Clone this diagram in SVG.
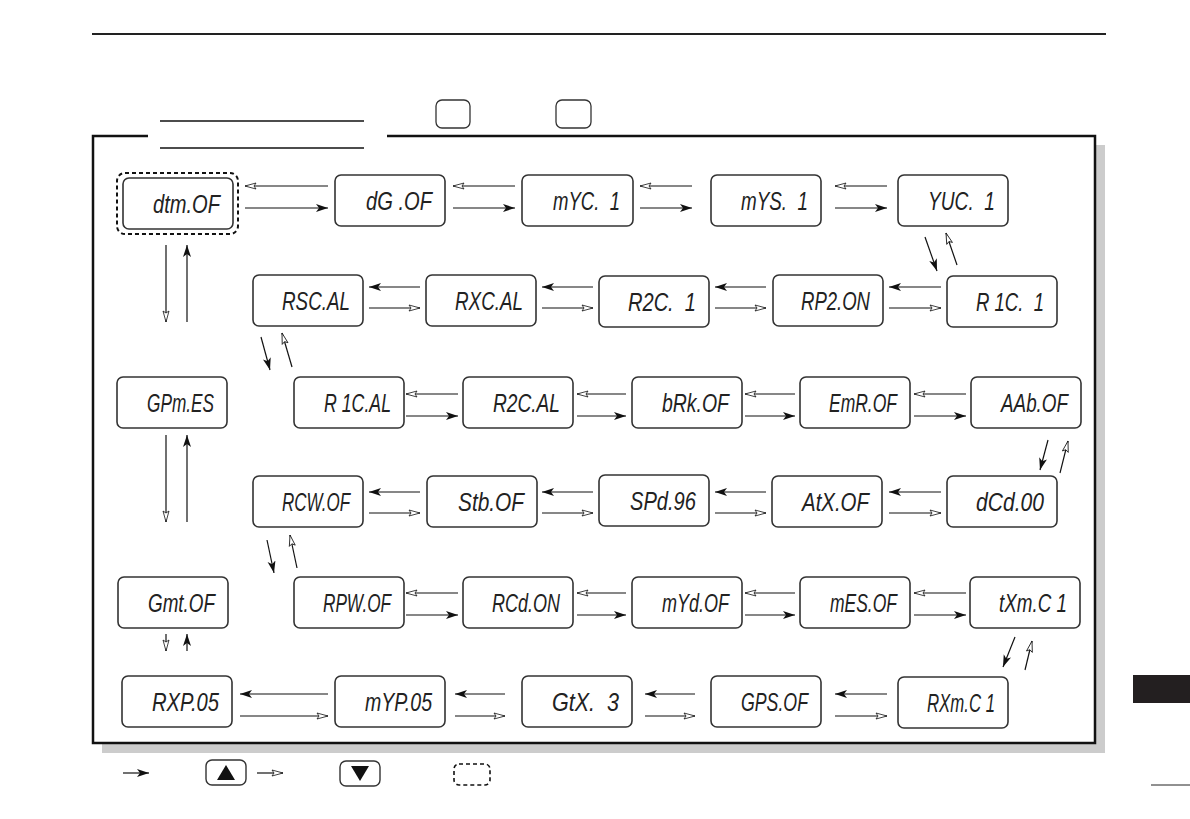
<svg xmlns="http://www.w3.org/2000/svg" width="1190" height="819" viewBox="0 0 1190 819">
<style>
.box{fill:#fff;stroke:#333;stroke-width:1.6}
.lcd{font-family:"Liberation Sans","DejaVu Sans",sans-serif;font-style:italic;font-size:26px;fill:#222;text-anchor:end;white-space:pre}
.c{stroke:#111;stroke-width:1.2;fill:none}
.f{marker-end:url(#af)}
.h{marker-end:url(#ah)}
</style>
<defs>
<marker id="af" markerUnits="userSpaceOnUse" markerWidth="14" markerHeight="10" refX="12" refY="4" orient="auto">
<path d="M0,0 L12,4 L0,8 L3,4 Z" fill="#111"/>
</marker>
<marker id="ah" markerUnits="userSpaceOnUse" markerWidth="14" markerHeight="10" refX="12" refY="4" orient="auto">
<path d="M1,1 L12,4 L1,7 L3,4 Z" fill="#fff" stroke="#111" stroke-width="0.8"/>
</marker>
</defs>
<rect width="1190" height="819" fill="#fff"/>
<!-- page furniture -->
<line x1="92" y1="34" x2="1106" y2="34" stroke="#222" stroke-width="2"/>
<rect x="436" y="100" width="34" height="28" rx="6" fill="#fff" stroke="#333" stroke-width="1.3"/>
<rect x="556" y="100" width="35" height="28" rx="6" fill="#fff" stroke="#333" stroke-width="1.3"/>
<rect x="102" y="145" width="1003" height="608" fill="#ccc"/>
<rect x="93" y="136" width="1002" height="607" fill="#fff"/>
<path d="M148,136 L93,136 L93,743 L1095,743 L1095,136 L387,136" fill="none" stroke="#111" stroke-width="2.5"/>
<line x1="160" y1="121" x2="364" y2="121" stroke="#111" stroke-width="1.3"/>
<line x1="160" y1="148" x2="364" y2="148" stroke="#111" stroke-width="1.3"/>
<rect x="1133" y="675" width="57" height="28" fill="#231f20"/>
<line x1="1151" y1="785" x2="1190" y2="785" stroke="#222" stroke-width="1"/>
<!-- legend -->
<line class="c f" x1="123" y1="773" x2="149" y2="773"/>
<rect x="206" y="760" width="40" height="25" rx="6" fill="#fff" stroke="#333" stroke-width="1.4"/>
<path d="M217,780 L226,765 L235,780 Z" fill="#111"/>
<line class="c h" x1="257" y1="773" x2="283" y2="773"/>
<rect x="340" y="761" width="40" height="25" rx="6" fill="#fff" stroke="#333" stroke-width="1.4"/>
<path d="M351,766 L360,781 L369,766 Z" fill="#111"/>
<rect x="454" y="764" width="36" height="21" rx="5" fill="none" stroke="#111" stroke-width="1.6" stroke-dasharray="4,3"/>

<g id="connectors">
<!-- row1 -->
<line class="c h" x1="328" y1="186" x2="245" y2="186"/><line class="c f" x1="245" y1="208" x2="328" y2="208"/>
<line class="c h" x1="515" y1="186" x2="453" y2="186"/><line class="c f" x1="453" y1="208" x2="515" y2="208"/>
<line class="c h" x1="692" y1="186" x2="640" y2="186"/><line class="c f" x1="640" y1="208" x2="692" y2="208"/>
<line class="c h" x1="887" y1="186" x2="835" y2="186"/><line class="c f" x1="835" y1="208" x2="887" y2="208"/>
<line class="c f" x1="925" y1="237" x2="937" y2="271"/><line class="c h" x1="957" y1="265" x2="946" y2="233"/>
<!-- row2 -->
<line class="c f" x1="420" y1="287" x2="369" y2="287"/><line class="c h" x1="369" y1="308" x2="420" y2="308"/>
<line class="c f" x1="593" y1="287" x2="542" y2="287"/><line class="c h" x1="542" y1="308" x2="593" y2="308"/>
<line class="c f" x1="766" y1="287" x2="715" y2="287"/><line class="c h" x1="715" y1="308" x2="766" y2="308"/>
<line class="c f" x1="941" y1="287" x2="889" y2="287"/><line class="c h" x1="889" y1="308" x2="941" y2="308"/>
<line class="c f" x1="261" y1="337" x2="270" y2="370"/><line class="c h" x1="292" y1="367" x2="282" y2="333"/>
<!-- left column -->
<line class="c h" x1="166" y1="245" x2="166" y2="322"/><line class="c f" x1="187" y1="322" x2="187" y2="245"/>
<line class="c h" x1="166" y1="435" x2="166" y2="522"/><line class="c f" x1="187" y1="522" x2="187" y2="435"/>
<line class="c h" x1="166" y1="634" x2="166" y2="651"/><line class="c f" x1="187" y1="651" x2="187" y2="634"/>
<!-- row3 -->
<line class="c h" x1="458" y1="394" x2="406" y2="394"/><line class="c f" x1="406" y1="416" x2="458" y2="416"/>
<line class="c h" x1="626" y1="394" x2="577" y2="394"/><line class="c f" x1="577" y1="416" x2="626" y2="416"/>
<line class="c h" x1="795" y1="394" x2="745" y2="394"/><line class="c f" x1="745" y1="416" x2="795" y2="416"/>
<line class="c h" x1="966" y1="394" x2="914" y2="394"/><line class="c f" x1="914" y1="416" x2="966" y2="416"/>
<line class="c f" x1="1048" y1="440" x2="1040" y2="470"/><line class="c h" x1="1060" y1="473" x2="1068" y2="441"/>
<!-- row4 -->
<line class="c f" x1="420" y1="492" x2="369" y2="492"/><line class="c h" x1="369" y1="513" x2="420" y2="513"/>
<line class="c f" x1="593" y1="492" x2="542" y2="492"/><line class="c h" x1="542" y1="513" x2="593" y2="513"/>
<line class="c f" x1="766" y1="492" x2="715" y2="492"/><line class="c h" x1="715" y1="513" x2="766" y2="513"/>
<line class="c f" x1="941" y1="492" x2="889" y2="492"/><line class="c h" x1="889" y1="513" x2="941" y2="513"/>
<line class="c f" x1="267" y1="540" x2="274" y2="573"/><line class="c h" x1="297" y1="568" x2="290" y2="535"/>
<!-- row5 -->
<line class="c h" x1="458" y1="593" x2="406" y2="593"/><line class="c f" x1="406" y1="615" x2="458" y2="615"/>
<line class="c h" x1="626" y1="593" x2="577" y2="593"/><line class="c f" x1="577" y1="615" x2="626" y2="615"/>
<line class="c h" x1="795" y1="593" x2="745" y2="593"/><line class="c f" x1="745" y1="615" x2="795" y2="615"/>
<line class="c h" x1="966" y1="593" x2="914" y2="593"/><line class="c f" x1="914" y1="615" x2="966" y2="615"/>
<line class="c f" x1="1015" y1="637" x2="1003" y2="667"/><line class="c h" x1="1025" y1="670" x2="1032" y2="641"/>
<!-- row6 -->
<line class="c f" x1="328" y1="694" x2="240" y2="694"/><line class="c h" x1="240" y1="716" x2="328" y2="716"/>
<line class="c f" x1="505" y1="694" x2="455" y2="694"/><line class="c h" x1="455" y1="716" x2="505" y2="716"/>
<line class="c f" x1="695" y1="694" x2="645" y2="694"/><line class="c h" x1="645" y1="716" x2="695" y2="716"/>
<line class="c f" x1="887" y1="694" x2="835" y2="694"/><line class="c h" x1="835" y1="716" x2="887" y2="716"/>
</g>

<g id="n-dtm"><rect x="117" y="173" width="121" height="61" rx="8" fill="none" stroke="#111" stroke-width="2" stroke-dasharray="4,3"/><rect class="box" x="123" y="178" width="110" height="51" rx="6"/><text class="lcd" x="220" y="213" textLength="67" lengthAdjust="spacingAndGlyphs">dtm.OF</text></g>
<g id="n-dg"><rect class="box" x="335" y="175" width="110" height="51" rx="6"/><text class="lcd" x="432" y="210" textLength="66" lengthAdjust="spacingAndGlyphs">dG .OF</text></g>
<g id="n-myc"><rect class="box" x="522" y="175" width="111" height="51" rx="6"/><text class="lcd" x="620" y="210" textLength="67" lengthAdjust="spacingAndGlyphs">mYC.  1</text></g>
<g id="n-mys"><rect class="box" x="711" y="175" width="110" height="51" rx="6"/><text class="lcd" x="808" y="210" textLength="67" lengthAdjust="spacingAndGlyphs">mYS.  1</text></g>
<g id="n-yuc"><rect class="box" x="898" y="175" width="110" height="51" rx="6"/><text class="lcd" x="995" y="210" textLength="67" lengthAdjust="spacingAndGlyphs">YUC.  1</text></g>

<g id="n-rsc"><rect class="box" x="253" y="275" width="110" height="51" rx="6"/><text class="lcd" x="350" y="310" textLength="68" lengthAdjust="spacingAndGlyphs">RSC.AL</text></g>
<g id="n-rxc"><rect class="box" x="426" y="275" width="110" height="51" rx="6"/><text class="lcd" x="523" y="310" textLength="68" lengthAdjust="spacingAndGlyphs">RXC.AL</text></g>
<g id="n-r2c1"><rect class="box" x="599" y="276" width="110" height="51" rx="6"/><text class="lcd" x="696" y="311" textLength="68" lengthAdjust="spacingAndGlyphs">R2C.  1</text></g>
<g id="n-rp2"><rect class="box" x="773" y="275" width="110" height="51" rx="6"/><text class="lcd" x="870" y="310" textLength="69" lengthAdjust="spacingAndGlyphs">RP2.ON</text></g>
<g id="n-r1c1"><rect class="box" x="947" y="276" width="110" height="51" rx="6"/><text class="lcd" x="1044" y="311" textLength="68" lengthAdjust="spacingAndGlyphs">R 1C.  1</text></g>

<g id="n-gpm"><rect class="box" x="117" y="377" width="110" height="51" rx="6"/><text class="lcd" x="214" y="412" textLength="67" lengthAdjust="spacingAndGlyphs">GPm.ES</text></g>
<g id="n-r1cal"><rect class="box" x="294" y="377" width="110" height="51" rx="6"/><text class="lcd" x="391" y="412" textLength="67" lengthAdjust="spacingAndGlyphs">R 1C.AL</text></g>
<g id="n-r2cal"><rect class="box" x="463" y="377" width="110" height="51" rx="6"/><text class="lcd" x="560" y="412" textLength="67" lengthAdjust="spacingAndGlyphs">R2C.AL</text></g>
<g id="n-brk"><rect class="box" x="632" y="377" width="110" height="51" rx="6"/><text class="lcd" x="729" y="412" textLength="67" lengthAdjust="spacingAndGlyphs">bRk.OF</text></g>
<g id="n-emr"><rect class="box" x="800" y="377" width="110" height="51" rx="6"/><text class="lcd" x="897" y="412" textLength="68" lengthAdjust="spacingAndGlyphs">EmR.OF</text></g>
<g id="n-aab"><rect class="box" x="971" y="377" width="110" height="51" rx="6"/><text class="lcd" x="1068" y="412" textLength="67" lengthAdjust="spacingAndGlyphs">AAb.OF</text></g>

<g id="n-rcw"><rect class="box" x="253" y="476" width="110" height="51" rx="6"/><text class="lcd" x="350" y="511" textLength="68" lengthAdjust="spacingAndGlyphs">RCW.OF</text></g>
<g id="n-stb"><rect class="box" x="427" y="476" width="110" height="51" rx="6"/><text class="lcd" x="524" y="511" textLength="66" lengthAdjust="spacingAndGlyphs">Stb.OF</text></g>
<g id="n-spd"><rect class="box" x="599" y="475" width="110" height="51" rx="6"/><text class="lcd" x="696" y="510" textLength="66" lengthAdjust="spacingAndGlyphs">SPd.96</text></g>
<g id="n-atx"><rect class="box" x="772" y="476" width="110" height="51" rx="6"/><text class="lcd" x="869" y="511" textLength="67" lengthAdjust="spacingAndGlyphs">AtX.OF</text></g>
<g id="n-dcd"><rect class="box" x="947" y="476" width="110" height="51" rx="6"/><text class="lcd" x="1044" y="511" textLength="68" lengthAdjust="spacingAndGlyphs">dCd.00</text></g>

<g id="n-gmt"><rect class="box" x="118" y="577" width="110" height="51" rx="6"/><text class="lcd" x="215" y="612" textLength="67" lengthAdjust="spacingAndGlyphs">Gmt.OF</text></g>
<g id="n-rpw"><rect class="box" x="294" y="577" width="110" height="51" rx="6"/><text class="lcd" x="391" y="612" textLength="68" lengthAdjust="spacingAndGlyphs">RPW.OF</text></g>
<g id="n-rcd"><rect class="box" x="463" y="577" width="110" height="51" rx="6"/><text class="lcd" x="560" y="612" textLength="68" lengthAdjust="spacingAndGlyphs">RCd.ON</text></g>
<g id="n-myd"><rect class="box" x="632" y="577" width="110" height="51" rx="6"/><text class="lcd" x="729" y="612" textLength="67" lengthAdjust="spacingAndGlyphs">mYd.OF</text></g>
<g id="n-mes"><rect class="box" x="800" y="577" width="110" height="51" rx="6"/><text class="lcd" x="897" y="612" textLength="67" lengthAdjust="spacingAndGlyphs">mES.OF</text></g>
<g id="n-txm"><rect class="box" x="970" y="577" width="110" height="51" rx="6"/><text class="lcd" x="1067" y="612" textLength="68" lengthAdjust="spacingAndGlyphs">tXm.C 1</text></g>

<g id="n-rxp"><rect class="box" x="122" y="676" width="110" height="51" rx="6"/><text class="lcd" x="219" y="711" textLength="67" lengthAdjust="spacingAndGlyphs">RXP.05</text></g>
<g id="n-myp"><rect class="box" x="335" y="676" width="110" height="51" rx="6"/><text class="lcd" x="432" y="711" textLength="67" lengthAdjust="spacingAndGlyphs">mYP.05</text></g>
<g id="n-gtx"><rect class="box" x="522" y="676" width="110" height="51" rx="6"/><text class="lcd" x="619" y="711" textLength="67" lengthAdjust="spacingAndGlyphs">GtX.  3</text></g>
<g id="n-gps"><rect class="box" x="711" y="676" width="110" height="51" rx="6"/><text class="lcd" x="808" y="711" textLength="67" lengthAdjust="spacingAndGlyphs">GPS.OF</text></g>
<g id="n-rxm"><rect class="box" x="898" y="677" width="110" height="51" rx="6"/><text class="lcd" x="995" y="712" textLength="68" lengthAdjust="spacingAndGlyphs">RXm.C 1</text></g>
</svg>
